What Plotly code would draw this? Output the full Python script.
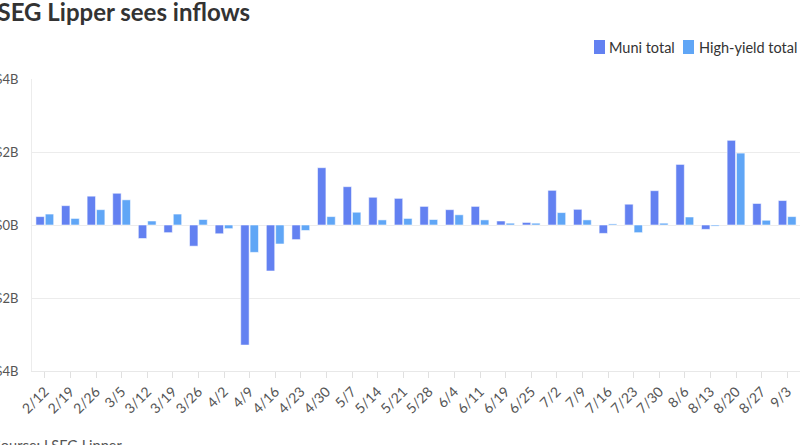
import plotly.graph_objects as go

weeks = ["2/12", "2/19", "2/26", "3/5", "3/12", "3/19", "3/26", "4/2", "4/9", "4/16",
         "4/23", "4/30", "5/7", "5/14", "5/21", "5/28", "6/4", "6/11", "6/19", "6/25",
         "7/2", "7/9", "7/16", "7/23", "7/30", "8/6", "8/13", "8/20", "8/27", "9/3"]
muni_total = [0.23, 0.53, 0.79, 0.87, -0.37, -0.21, -0.58, -0.24, -3.29, -1.26,
              -0.40, 1.57, 1.05, 0.76, 0.73, 0.51, 0.42, 0.51, 0.11, 0.07,
              0.95, 0.43, -0.23, 0.57, 0.94, 1.66, -0.12, 2.32, 0.59, 0.67]
high_yield_total = [0.30, 0.18, 0.42, 0.69, 0.11, 0.30, 0.15, -0.10, -0.75, -0.52,
                    -0.15, 0.23, 0.35, 0.14, 0.18, 0.15, 0.28, 0.14, 0.05, 0.05,
                    0.34, 0.14, 0.03, -0.21, 0.05, 0.22, -0.03, 1.97, 0.13, 0.23]
y_ticks = [-4, -2, 0, 2, 4]
y_labels = ["-$4B", "-$2B", "$0B", "$2B", "$4B"]
series_names = ["Muni total", "High-yield total"]

W, H = 800, 445
L, R, T, B = 32, 0, 79, 74
PW, PH = W - L - R, H - T - B

def px_x(x):
    return (x - L) / PW

def px_y(y):
    return (H - B - y) / PH

MUNI = "#6381f1"
HY = "#60a6f6"
colors = [MUNI, HY]

fig = go.Figure()
for name, vals, col in zip(series_names, [muni_total, high_yield_total], colors):
    fig.add_trace(go.Bar(name=name, x=weeks, y=vals, showlegend=False,
                         marker=dict(color=col, line=dict(color="rgba(255,255,255,0.55)", width=1))))

fig.update_layout(
    width=W, height=H,
    margin=dict(l=L, r=R, t=T, b=B, autoexpand=False),
    paper_bgcolor="white", plot_bgcolor="white",
    barmode="group", bargap=0.27, bargroupgap=0.1,
    font=dict(family="Lato", size=13, color="#555555"),
    xaxis=dict(type="category", tickangle=-45, showgrid=False,
               showline=True, linecolor="#e8e8e8", linewidth=1,
               ticks="outside", ticklen=6, tickcolor="#e0e0e0",
               tickfont=dict(size=14, color="#555555"), fixedrange=True),
    yaxis=dict(range=[-4, 4], tickvals=y_ticks, ticktext=y_labels,
               showgrid=True, gridcolor="#ececec", gridwidth=1,
               zeroline=True, zerolinecolor="#ececec", zerolinewidth=1,
               showline=True, linecolor="#ececec", linewidth=1,
               ticklabelstandoff=10,
               tickfont=dict(size=13, color="#555555"), fixedrange=True),
)

# legend (swatch + label)
legend_pos = [(594, 607), (683, 697)]
for (sx, tx), name, col in zip(legend_pos, series_names, colors):
    fig.add_shape(type="rect", xref="paper", yref="paper",
                  x0=px_x(sx + 1), x1=px_x(sx + 10), y0=px_y(41), y1=px_y(53),
                  fillcolor=col, line=dict(color=col, width=2))
    fig.add_annotation(text=name, xref="paper", yref="paper",
                       x=px_x(tx), y=px_y(47), xanchor="left", yanchor="middle",
                       showarrow=False, font=dict(family="Lato", size=14.5, color="#333333"))

fig.add_annotation(text="<b>LSEG Lipper sees inflows</b>", xref="paper", yref="paper",
                   x=px_x(-17), y=px_y(11.5), xanchor="left", yanchor="middle",
                   showarrow=False, font=dict(family="Lato", size=24, color="#333333"))
fig.add_annotation(text="Source: LSEG Lipper", xref="paper", yref="paper",
                   x=px_x(-9), y=px_y(445), xanchor="left", yanchor="middle",
                   showarrow=False, font=dict(family="Lato", size=14.5, color="#555555"))

fig.write_html("out.html", config={"displayModeBar": False},
               post_script="document.body.style.margin='0';document.body.style.overflow='hidden';")
